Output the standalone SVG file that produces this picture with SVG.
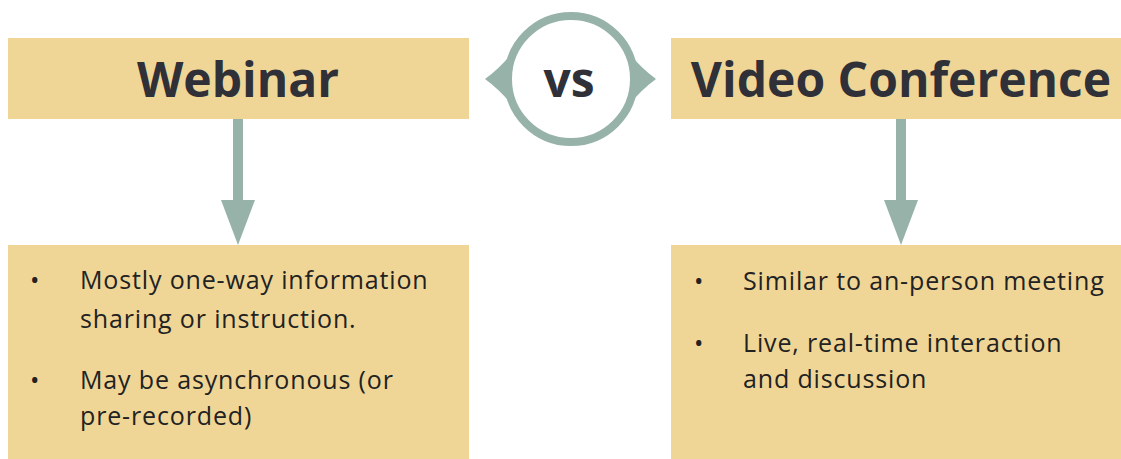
<svg xmlns="http://www.w3.org/2000/svg" width="1121" height="459" viewBox="0 0 1121 459">
<style>
.box{fill:#F0D696}
.head{font-family:"Open Sans","Liberation Sans",sans-serif;font-weight:700;font-size:48px;fill:#2F3038;text-anchor:middle}
.body{font-family:"Open Sans","Liberation Sans",sans-serif;font-size:25px;letter-spacing:0.85px;fill:#222222}
.conn{fill:#97B3A9}
</style>
<rect width="1121" height="459" fill="#FFFFFF"/>
<g id="webinar">
<rect class="box" x="8" y="38" width="461" height="81"/>
<text class="head" x="238" y="97">Webinar</text>
</g>
<g id="video-conference">
<rect class="box" x="671" y="38" width="450" height="81"/>
<text class="head" x="901" y="97">Video Conference</text>
</g>
<g id="vs">
<path class="conn" d="M485,79 Q500,68 512,53 L512,105 Q500,90 485,79 Z"/>
<path class="conn" d="M656,79 Q641,68 629,53 L629,105 Q641,90 656,79 Z"/>
<circle cx="571" cy="79" r="63" fill="#FFFFFF" stroke="#97B3A9" stroke-width="8"/>
<text class="head" x="569" y="97" font-size="46">vs</text>
</g>
<g id="webinar-details">
<rect class="box" x="8" y="245" width="461" height="214"/>
<text class="body"><tspan x="30" y="289">•</tspan><tspan x="80" y="289">Mostly one-way information</tspan><tspan x="80" y="328">sharing or instruction.</tspan><tspan x="30" y="389">•</tspan><tspan x="80" y="389">May be asynchronous (or</tspan><tspan x="80" y="425">pre-recorded)</tspan></text>
</g>
<g id="video-details">
<rect class="box" x="671" y="245" width="450" height="214"/>
<text class="body"><tspan x="694" y="290">•</tspan><tspan x="743" y="290">Similar to an-person meeting</tspan><tspan x="694" y="352">•</tspan><tspan x="743" y="352">Live, real-time interaction</tspan><tspan x="743" y="388">and discussion</tspan></text>
</g>
<g id="connectors">
<path class="conn" d="M233,119 L243,119 L243,200 L255,200 L238,245 L221,200 L233,200 Z"/>
<path class="conn" d="M896,119 L906,119 L906,200 L918,200 L901,245 L884,200 L896,200 Z"/>
</g>
</svg>
